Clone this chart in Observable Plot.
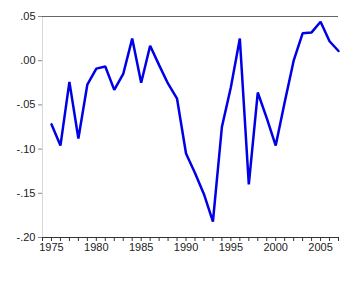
<!DOCTYPE html>
<html>
<head>
<meta charset="utf-8">
<script src="https://cdn.jsdelivr.net/npm/d3@7"></script>
<script src="https://cdn.jsdelivr.net/npm/@observablehq/plot@0.6"></script>
<style>
  html, body { margin: 0; padding: 0; background: #fff; }
</style>
</head>
<body>
<div id="chart"></div>
<script>
const years = [1975,1976,1977,1978,1979,1980,1981,1982,1983,1984,1985,1986,1987,1988,1989,1990,1991,1992,1993,1994,1995,1996,1997,1998,1999,2000,2001,2002,2003,2004,2005,2006,2007];
const values = [-0.072,-0.096,-0.024,-0.088,-0.027,-0.009,-0.0065,-0.033,-0.015,0.025,-0.025,0.017,-0.005,-0.026,-0.043,-0.105,-0.127,-0.151,-0.182,-0.075,-0.030,0.025,-0.140,-0.036,-0.065,-0.096,-0.047,0.000,0.031,0.032,0.044,0.022,0.011];
const yTicks = [0.05, 0.00, -0.05, -0.10, -0.15, -0.20];
const xTicks = d3.range(1974, 2008);

const data = years.map((y, i) => ({year: y, value: values[i]}));

const fmtY = v => {
  const s = Math.abs(v).toFixed(2).replace(/^0/, "");
  return (v < -1e-9 ? "-" : "") + s;
};

const chart = Plot.plot({
  width: 359,
  height: 299,
  marginLeft: 42,
  marginRight: 21,
  marginTop: 16,
  marginBottom: 62,
  style: {fontFamily: "Liberation Sans, Arial, sans-serif", fontSize: "11px", color: "#222", background: "#fff"},
  x: {domain: [1974, 2007], label: null},
  y: {domain: [-0.20, 0.05], label: null},
  marks: [
    Plot.ruleX([1974], {stroke: "#d8d8d8", strokeWidth: 1}),
    Plot.ruleY([0.05], {stroke: "#666", strokeWidth: 1}),
    Plot.ruleY([-0.20], {stroke: "#333", strokeWidth: 1}),
    Plot.axisY({ticks: yTicks, tickFormat: fmtY, tickSize: 4, tickPadding: 3, stroke: "#888", label: null}),
    Plot.axisX({ticks: xTicks, tickFormat: d => d % 5 === 0 ? String(d) : "", tickSize: 4, tickPadding: 2, stroke: "#333", label: null}),
    Plot.line(data, {x: "year", y: "value", stroke: "#0000e6", strokeWidth: 2.5, strokeLinejoin: "miter"})
  ]
});
document.getElementById("chart").appendChild(chart);
</script>
</body>
</html>
